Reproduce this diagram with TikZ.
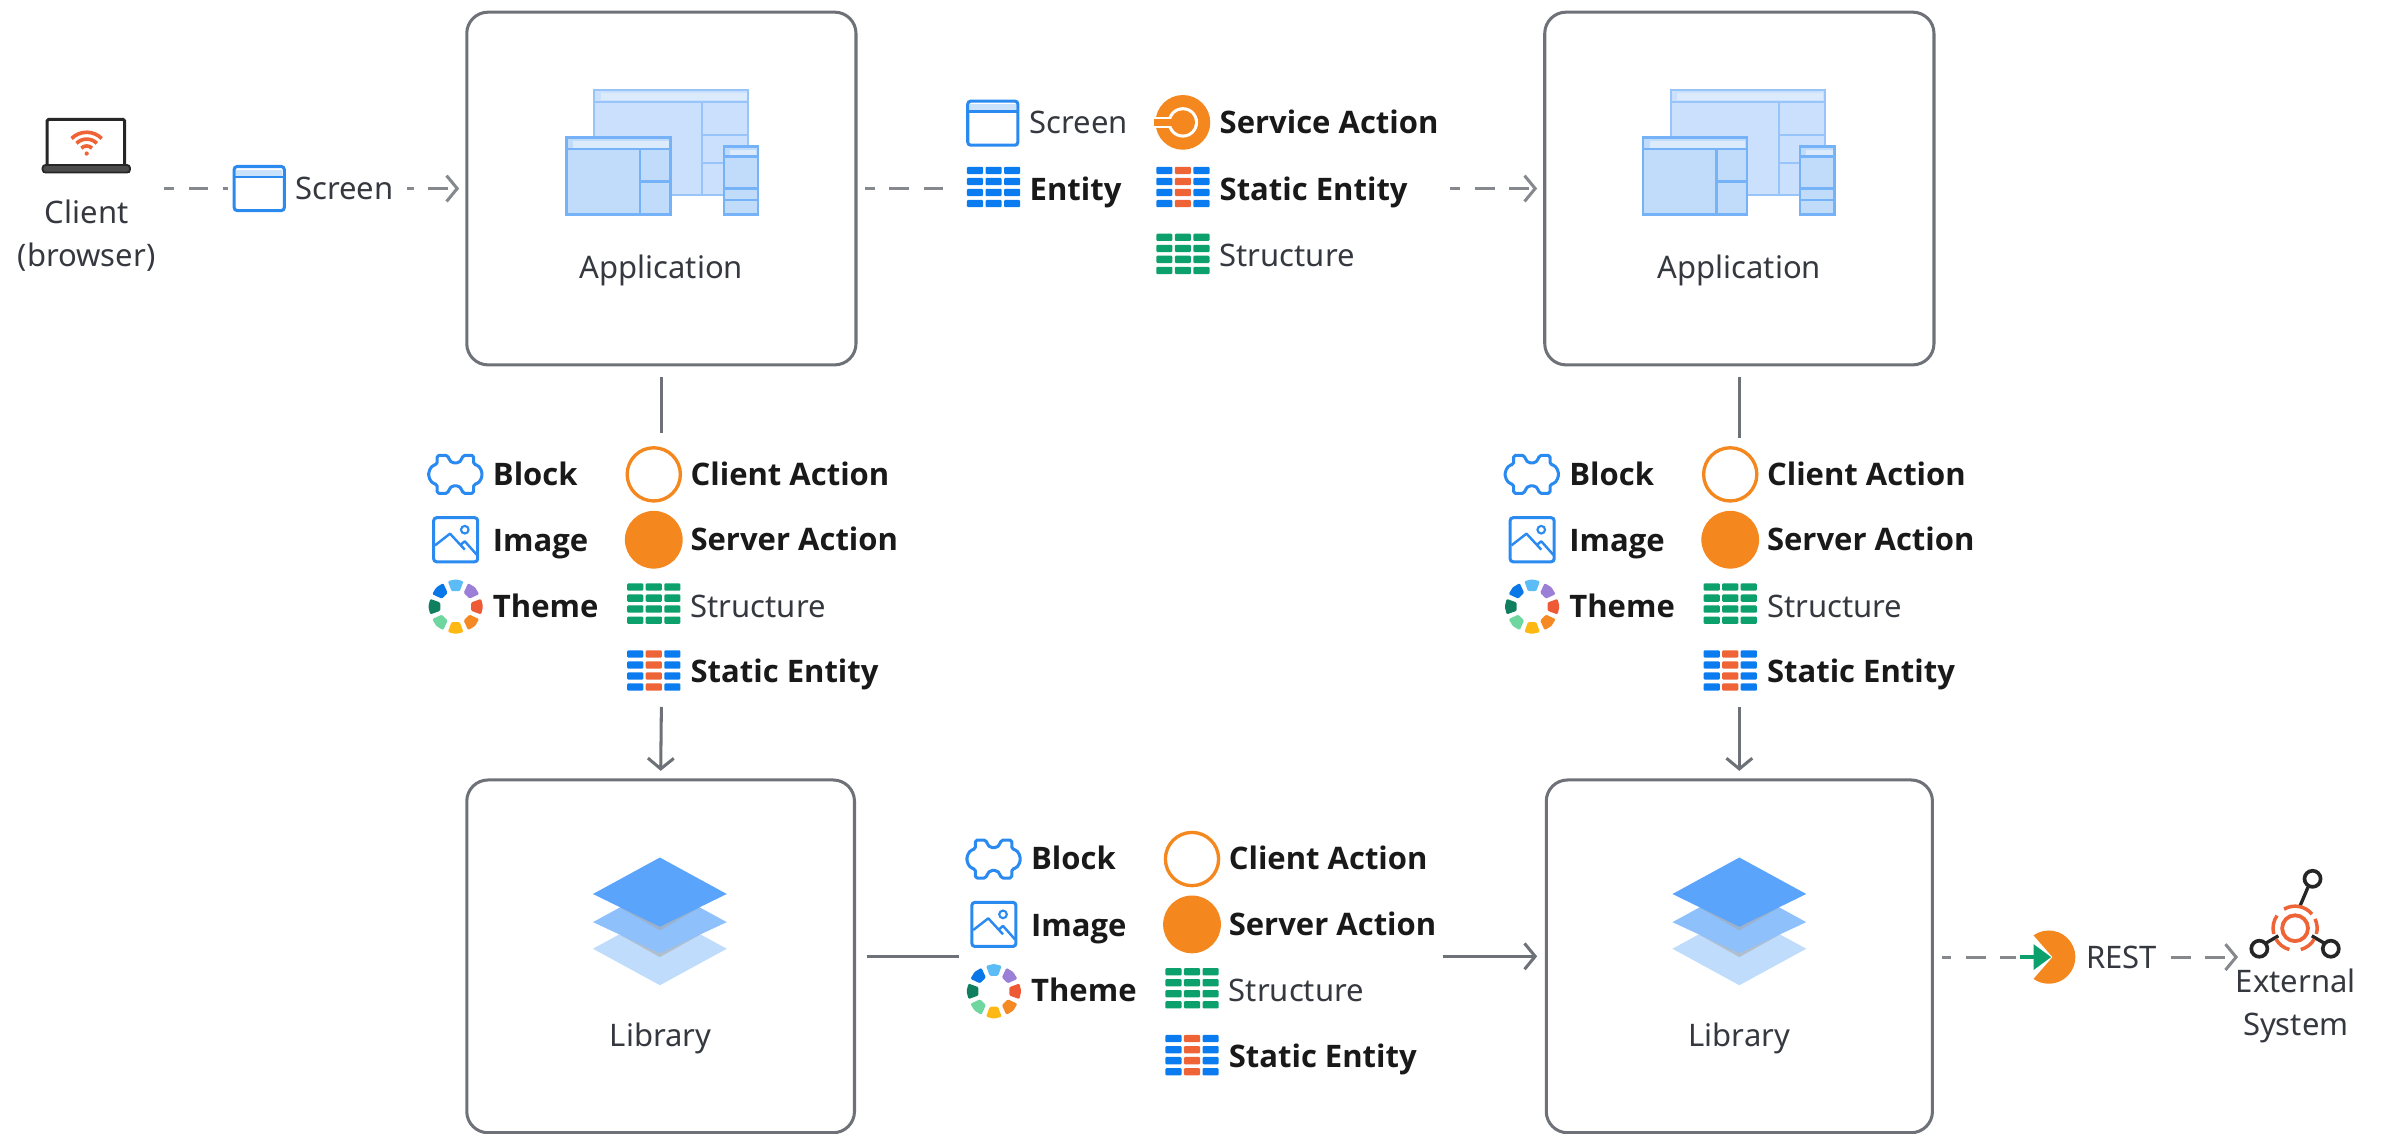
\documentclass[tikz,border=0pt]{standalone}
\usepackage{fontspec}
\setmainfont{Noto Sans}
\newfontfamily\boldfam{Open Sans}
\usetikzlibrary{arrows.meta,calc}
\definecolor{ink}{HTML}{35393F}
\definecolor{edgeg}{HTML}{6E7278}
\definecolor{dashg}{HTML}{85898E}
\definecolor{iblue}{HTML}{2A8AF0}
\definecolor{gblue}{HTML}{0A7CF0}
\definecolor{ggreen}{HTML}{0CA06C}
\definecolor{gred}{HTML}{EE6436}
\definecolor{orng}{HTML}{F5871F}
\definecolor{winfill}{HTML}{C1DBFB}
\definecolor{winline}{HTML}{76B2F7}
\definecolor{winhead}{HTML}{DCEBFC}
\tikzset{
  x=1pt,y=-1pt,
  box/.style={draw=edgeg,line width=2pt,rounded corners=14pt,minimum width=#1,minimum height=232,inner sep=0pt},
  txt/.style={font=\fontsize{20.4}{24}\selectfont,text=ink,inner sep=0pt,anchor=base west},
  btxt/.style={font=\boldfam\fontsize{20.4}{24}\selectfont\bfseries,text=black!90,inner sep=0pt,anchor=base west},
  ctxt/.style={font=\fontsize{20.4}{24}\selectfont,text=ink,inner sep=0pt,anchor=base},
  solidconn/.style={draw=edgeg,line width=2pt},
  dashconn/.style={draw=dashg,line width=2pt,dash pattern=on 13pt off 9.5pt,dash phase=6.5pt},
  tip/.style={-{Straight Barb[length=7pt,width=17pt,line width=2pt]}},
  win/.style={draw=winline,fill=winfill,line width=1.6pt},
  winl/.style={draw=winline,line width=1.6pt},
  winb/.style={draw=winline!75,fill=winfill!85,line width=1.3pt},
  winbl/.style={draw=winline!75,line width=1.3pt},
  pics/screenicon/.style={code={
    \draw[iblue,line width=2pt,fill=white,rounded corners=2pt] (-16.5,-14.5) rectangle (16.5,14.5);
    \fill[iblue!25] (-15,-12.5) rectangle (15,-8);
    \draw[iblue,line width=1.8pt] (-16,-7.5) -- (16,-7.5);
  }},
  pics/gridicon/.style 2 args={code={
    \foreach \yy in {-10.9,-3.6,3.6,10.9}{
      \fill[#1,rounded corners=.7pt] (-17.5,\yy-2.4) rectangle (-6.9,\yy+2.4);
      \fill[#2,rounded corners=.7pt] (-5.3,\yy-2.4) rectangle (5.3,\yy+2.4);
      \fill[#1,rounded corners=.7pt] (6.9,\yy-2.4) rectangle (17.5,\yy+2.4);
    }
  }},
  pics/blockicon/.style={code={
    \draw[iblue,line width=2pt,rounded corners=1.2pt,line join=round]
      (-12,-12.5) -- (-5,-12.5) -- (-4,-9.5) -- (-2,-7.5) -- (2,-7.5) -- (4,-9.5) -- (5,-12.5) -- (12,-12.5)
      -- (12,-6.5) -- (15,-6) -- (17.5,-2) -- (17.5,2) -- (15,6) -- (12,6.5)
      -- (12,12.5) -- (5,12.5) -- (4,9.5) -- (2,7.5) -- (-2,7.5) -- (-4,9.5) -- (-5,12.5) -- (-12,12.5)
      -- (-12,6.5) -- (-15,6) -- (-17.5,2) -- (-17.5,-2) -- (-15,-6) -- (-12,-6.5) -- cycle;
  }},
  pics/imageicon/.style={code={
    \draw[iblue,line width=2pt,rounded corners=2pt] (-14.5,-14.5) rectangle (14.5,14.5);
    \draw[iblue,line width=1.6pt,line join=round] (-13.6,3.7) -- (-3.7,-4) -- (6,6.5);
    \draw[iblue,line width=1.6pt,line join=round] (3,3.5) -- (6,1) -- (14,10);
    \draw[iblue,line width=1.4pt] (6,-6.6) circle (2.5);
  }},
  pics/themeicon/.style={code={
    \foreach \a/\c in {-90/5CBCF5,-45/9C7FD6,0/EE5A35,45/F58A24,90/FDB813,135/6FD6A0,180/0F7F5F,-135/0A77E8}{
      \definecolor{wc}{HTML}{\c}
      \fill[wc,rounded corners=.8pt] (\a-15:10.5) -- (\a-17:17.5) -- (\a:18) -- (\a+17:17.5) -- (\a+15:10.5) -- cycle;
    }
  }},
  pics/actiongroup/.style={code={
    \pic at (299.5,312) {blockicon};
    \pic at (299.7,355) {imageicon};
    \pic at (299.7,399) {themeicon};
    \node[btxt] (#1block) at (324,319) {Block};
    \node[btxt] (#1image) at (324,363) {Image};
    \node[btxt] (#1theme) at (324,406) {Theme};
    \draw[orng,line width=2.2pt] (430,312) circle (17.5);
    \fill[orng] (430,355) circle (19);
    \pic at (430,397) {gridicon={ggreen}{ggreen}};
    \pic at (430,441) {gridicon={gblue}{gred}};
    \node[btxt] (#1client) at (454,319) {Client Action};
    \node[btxt] (#1server) at (454,362) {Server Action};
    \node[txt] (#1struct) at (454,406) {Structure};
    \node[btxt] (#1static) at (454,449) {Static Entity};
  }},
  pics/appicon/.style={code={
    % large window
    \draw[winb] (391,59) rectangle (492,128);
    \fill[winhead] (395,61) rectangle (491,66);
    \draw[winbl] (391,67) -- (492,67) (462,67) -- (462,128) (462,89) -- (492,89) (462,107) -- (492,107);
    % left window
    \draw[win] (372.5,90.5) rectangle (441,141);
    \fill[winhead] (377,92.5) rectangle (440,97.5);
    \draw[winl] (372.5,98) -- (441,98) (421,98) -- (421,141) (421,119.5) -- (441,119.5);
    % phone
    \draw[win] (476,96.5) rectangle (498.5,141);
    \fill[winhead] (480,98.5) rectangle (497.5,102);
    \draw[winl] (476,103) -- (498.5,103) (476,124) -- (498.5,124) (476,131.5) -- (498.5,131.5);
  }},
  pics/libicon/.style={code={
    \fill[HBot] (390,624) -- (434,600) -- (478,624) -- (434,648) -- cycle;
    \fill[black!35,opacity=.55] (408,615) -- (434,602) -- (460,615) -- (434,629.5) -- cycle;
    \fill[HMid] (390,606.5) -- (434,582.5) -- (478,606.5) -- (434,627) -- cycle;
    \fill[black!35,opacity=.55] (408,597) -- (434,584) -- (460,597) -- (434,612) -- cycle;
    \fill[HTop] (390,588) -- (434,564) -- (478,588) -- (434,609.5) -- cycle;
  }}
}
\definecolor{HTop}{HTML}{5BA4FB}
\definecolor{HMid}{HTML}{8EC0FB}
\definecolor{HBot}{HTML}{C0DCFD}
\begin{document}
\begin{tikzpicture}
\useasboundingbox (0,0) rectangle (1568,745.85);

% boxes
\node[box=256] (app1) at (435,124) {};
\node[box=256] (app2) at (1144,124) {};
\node[box=255,minimum height=232] (lib1) at (434.5,629) {};
\node[box=254,minimum height=232] (lib2) at (1144,629) {};

% box contents
\pic at (0,0) {appicon};
\pic at (708,0) {appicon};
\pic at (0,0) {libicon};
\pic at (710,0) {libicon};
\node[ctxt] (appl1) at (435,183) {Application};
\node[ctxt] (appl2) at (1144,183) {Application};
\node[ctxt] (libl1) at (434.5,688) {Library};
\node[ctxt] (libl2) at (1144,688) {Library};

% free ends of connectors
\coordinate (cliout) at (108,124);
\coordinate (gaw) at (628,124);
\coordinate (gae) at (954,124);
\coordinate (g1n) at (435,285);
\coordinate (g1s) at (435,465);
\coordinate (g2n) at (1144,288);
\coordinate (g2s) at (1144,465);
\coordinate (g3w) at (631,629);
\coordinate (g3e) at (949,629);
\coordinate (extin) at (1472,629.5);

% connectors
\draw[dashconn,tip,shorten >=4pt] (cliout) -- (app1.west);
\draw[dashconn,shorten <=5pt] (app1.east) -- (gaw);
\draw[dashconn,tip,shorten >=4pt] (gae) -- (app2.west);
\draw[solidconn,shorten <=7pt] (app1.south) -- (g1n);
\draw[solidconn,tip,shorten >=5pt] (g1s) -- (lib1.north);
\draw[solidconn,shorten <=7pt] (app2.south) -- (g2n);
\draw[solidconn,tip,shorten >=5pt] (g2s) -- (lib2.north);
\draw[solidconn,shorten <=7pt] (lib1.east) -- (g3w);
\draw[solidconn,tip,shorten >=5pt] (g3e) -- (lib2.west);
\draw[dashconn,tip,shorten <=5pt] (lib2.east |- extin) -- (extin);

% client
\draw[black!85,line width=2pt,fill=white,rounded corners=1pt] (31,78.5) rectangle (82,110);
\fill[black!70] (28,108.5) rectangle (85.5,113.5);
\draw[black!85,line width=1.2pt,rounded corners=2pt] (28,108.5) rectangle (85.5,113.5);
\begin{scope}[shift={(57,101)}]
  \foreach \r in {5,9.5,14}{
    \draw[gred,line width=2.4pt] (-135:\r) arc[start angle=-135,end angle=-45,radius=\r];
  }
  \fill[gred] (0,0) circle (1.4);
\end{scope}
\node[ctxt] (client1) at (57,147) {Client};
\node[ctxt] (client2) at (57,175) {(browser)};

% first dashed label
\fill[white] (150,108) rectangle (268,140);
\pic at (170.5,124) {screenicon};
\node[txt] (scr1) at (194,131) {Screen};

% top middle group
\pic at (653,81) {screenicon};
\node[txt] (scr2) at (677,88) {Screen};
\pic at (653.5,123) {gridicon={gblue}{gblue}};
\node[btxt] (ent) at (677,132) {Entity};
\begin{scope}[shift={(778,80.5)}]
  \fill[orng] (0,0) circle (18);
  \fill[white] (0,0) circle (10);
  \fill[white] (-20,-3.4) rectangle (-6,3.4);
  \fill[orng] (0,0) circle (8);
  \fill[orng] (-19,-2.2) rectangle (-5,2.2);
\end{scope}
\node[btxt] (svc) at (802,88) {Service Action};
\pic at (778,123) {gridicon={gblue}{gred}};
\node[btxt] (sta) at (802,132) {Static Entity};
\pic at (778,167) {gridicon={ggreen}{ggreen}};
\node[txt] (str) at (802,175) {Structure};

% action groups
\pic at (0,0) {actiongroup=ga};
\pic at (708,0) {actiongroup=gb};
\pic at (354,253) {actiongroup=gc};

% REST
\fill[white] (1326,610) rectangle (1421,648);
\begin{scope}[shift={(1347.5,629.5)}]
  \fill[orng] (2.5,0) -- (-125:17.5) arc[start angle=-125,end angle=125,radius=17.5] -- cycle;
  \draw[ggreen,line width=3pt] (-19,0) -- (-6,0);
  \fill[ggreen] (-10,-8.5) -- (1.5,0) -- (-10,8.5) -- cycle;
\end{scope}
\node[txt] (rest) at (1372,637) {REST};

% external system
\begin{scope}[shift={(1509.5,610.5)}]
  \draw[black!85,line width=2.2pt] (-19.5,10) -- (-11,5) (19.5,10) -- (11,5) (8.5,-27) -- (3,-14);
  \draw[black!85,line width=2.4pt,fill=white] (11.5,-32.5) circle (5.3) (-23.5,13.5) circle (5.3) (23.5,13.5) circle (5.3);
  \draw[gred,line width=2.5pt] (0,0) circle (8.5);
  \foreach \s/\e in {-120/-40,-25/15,30/75,105/150,165/215}{
    \draw[gred,line width=2.3pt] (\s:14.5) arc[start angle=\s,end angle=\e,radius=14.5];
  }
\end{scope}
\node[ctxt] (ext1) at (1510,653) {External};
\node[ctxt] (ext2) at (1510,681) {System};
\end{tikzpicture}
\end{document}
